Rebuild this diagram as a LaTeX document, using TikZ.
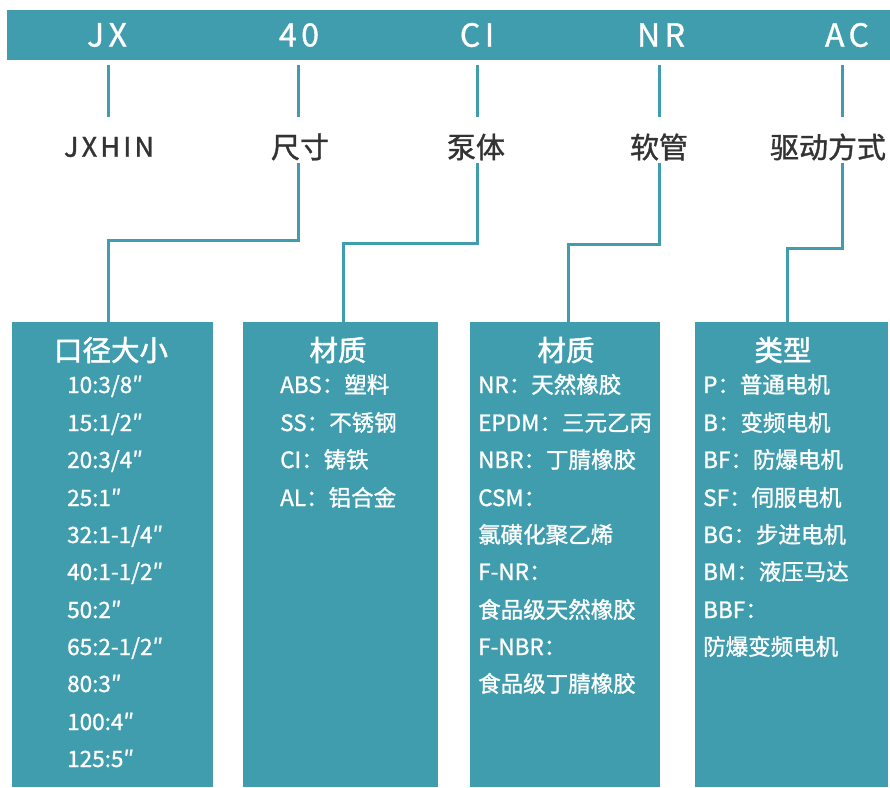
\documentclass[tikz,border=0pt]{standalone}
\usepackage{fontspec}
\setmainfont{Noto Sans CJK SC}
\newfontfamily\barfont[LetterSpace=14,FakeBold=1]{Noto Sans CJK SC}
\newfontfamily\labfont[LetterSpace=12,FakeBold=1.2]{Noto Sans CJK SC}
\newfontfamily\medfont[FakeBold=1.2]{Noto Sans CJK SC}
\newfontfamily\ttlfont[FakeBold=1.8]{Noto Sans CJK SC}
\definecolor{tealc}{HTML}{3F9DAE}
\definecolor{labc}{HTML}{333333}
\begin{document}
\begin{tikzpicture}[x=1pt,y=-1pt,
  bar/.style={fill=tealc,draw=none,anchor=north west,minimum width=883pt,minimum height=50pt,inner sep=0pt},
  code/.style={text=white,font=\barfont\fontsize{32}{32}\selectfont,inner sep=0pt},
  lab/.style={text=labc,font=\medfont\fontsize{29}{29}\selectfont,inner sep=0pt},
  labl/.style={text=labc,font=\labfont\fontsize{27}{27}\selectfont,inner sep=0pt},
  box/.style={fill=tealc,draw=none,anchor=north west,inner sep=0pt},
  ttl/.style={text=white,font=\ttlfont\fontsize{28.5}{28.5}\selectfont,inner sep=0pt},
  item/.style={text=white,font=\medfont\fontsize{22.5}{22.5}\selectfont,inner sep=0pt,anchor=west,text height=0.8em,text depth=0.2em},
  conn/.style={draw=tealc,line width=3pt}]
\useasboundingbox (0,0) rectangle (890,787);
\fill[white] (0,0) rectangle (890,787);
% top bar
\node[bar] (bar) at (7,10) {};
\node[code] (cJX) at (107,35) {JX};
\node[code] (c40) at (299,35) {40};
\node[code] (cCI) at (477,35) {CI};
\node[code] (cNR) at (661,35) {NR};
\node[code] (cAC) at (847,35) {AC};
% labels
\node[labl] (lJX) at (109,147) {JXHIN};
\node[lab] (l40) at (300,147) {尺寸};
\node[lab] (lCI) at (476,147) {泵体};
\node[lab] (lNR) at (659,147) {软管};
\node[lab] (lAC) at (828,147) {驱动方式};
% short connectors bar -> labels
\coordinate (t1a) at (108,65); \coordinate (t1b) at (108,117);
\coordinate (t2a) at (298,65); \coordinate (t2b) at (298,117);
\coordinate (t3a) at (477,65); \coordinate (t3b) at (477,117);
\coordinate (t4a) at (659,65); \coordinate (t4b) at (659,117);
\coordinate (t5a) at (842,65); \coordinate (t5b) at (842,117);
\draw[conn] (t1a) -- (t1b);
\draw[conn] (t2a) -- (t2b);
\draw[conn] (t3a) -- (t3b);
\draw[conn] (t4a) -- (t4b);
\draw[conn] (t5a) -- (t5b);
% boxes
\node[box,minimum width=201pt,minimum height=465pt] (b1) at (12,322) {};
\node[box,minimum width=195pt,minimum height=465pt] (b2) at (243,322) {};
\node[box,minimum width=190pt,minimum height=465pt] (b3) at (470,322) {};
\node[box,minimum width=193pt,minimum height=465pt] (b4) at (695,322) {};
% elbow connectors labels -> boxes
\coordinate (s2) at (298,163); \coordinate (k2) at (108,240);
\coordinate (s3) at (477,163); \coordinate (k3) at (343,243);
\coordinate (s4) at (659,163); \coordinate (k4) at (568,244);
\coordinate (s5) at (842,163); \coordinate (k5) at (787,248);
\draw[conn] (s2) |- (k2) -- (k2 |- b1.north);
\draw[conn] (s3) |- (k3) -- (k3 |- b2.north);
\draw[conn] (s4) |- (k4) -- (k4 |- b3.north);
\draw[conn] (s5) |- (k5) -- (k5 |- b4.north);
% titles
\node[ttl] (h1) at (111,350) {口径大小};
\node[ttl] (h2) at (338,350) {材质};
\node[ttl] (h3) at (566,350) {材质};
\node[ttl] (h4) at (783,350) {类型};
% box 1 items
\node[item] (a1) at (67,390) {10:3/8″};
\node[item] (a2) at (67,428) {15:1/2″};
\node[item] (a3) at (67,465) {20:3/4″};
\node[item] (a4) at (67,503) {25:1″};
\node[item] (a5) at (67,540) {32:1-1/4″};
\node[item] (a6) at (67,577) {40:1-1/2″};
\node[item] (a7) at (67,615) {50:2″};
\node[item] (a8) at (67,652) {65:2-1/2″};
\node[item] (a9) at (67,689) {80:3″};
\node[item] (a10) at (67,727) {100:4″};
\node[item] (a11) at (67,764) {125:5″};
% box 2 items
\node[item] (m1) at (280,390) {ABS：塑料};
\node[item] (m2) at (280,428) {SS：不锈钢};
\node[item] (m3) at (280,465) {CI：铸铁};
\node[item] (m4) at (280,503) {AL：铝合金};
% box 3 items
\node[item] (r1) at (478,390) {NR：天然橡胶};
\node[item] (r2) at (478,428) {EPDM：三元乙丙};
\node[item] (r3) at (478,465) {NBR：丁腈橡胶};
\node[item] (r4) at (478,503) {CSM：};
\node[item] (r5) at (478,540) {氯磺化聚乙烯};
\node[item] (r6) at (478,577) {F-NR：};
\node[item] (r7) at (478,615) {食品级天然橡胶};
\node[item] (r8) at (478,652) {F-NBR：};
\node[item] (r9) at (478,689) {食品级丁腈橡胶};
% box 4 items
\node[item] (p1) at (703,390) {P：普通电机};
\node[item] (p2) at (703,428) {B：变频电机};
\node[item] (p3) at (703,465) {BF：防爆电机};
\node[item] (p4) at (703,503) {SF：伺服电机};
\node[item] (p5) at (703,540) {BG：步进电机};
\node[item] (p6) at (703,577) {BM：液压马达};
\node[item] (p7) at (703,615) {BBF：};
\node[item] (p8) at (703,652) {防爆变频电机};
\end{tikzpicture}
\end{document}
